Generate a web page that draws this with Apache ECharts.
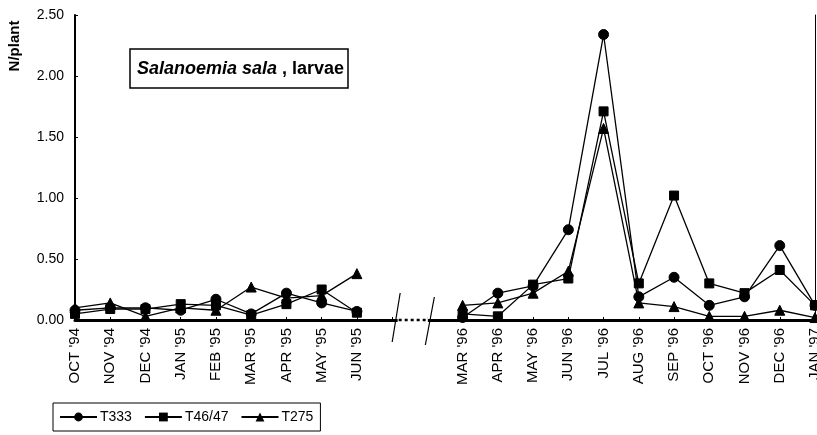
<!DOCTYPE html>
<html>
<head>
<meta charset="utf-8">
<script src="https://cdn.jsdelivr.net/npm/echarts@6/dist/echarts.min.js"></script>
<style>
html,body{margin:0;padding:0;background:#fff;}
#c{width:817px;height:435px;}
</style>
</head>
<body>
<div id="c"></div>
<script>
// ---- data ----
const categories = ["OCT '94","NOV '94","DEC '94","JAN '95","FEB '95","MAR '95","APR '95","MAY '95","JUN '95",
  "", "",
  "MAR '96","APR '96","MAY '96","JUN '96","JUL '96","AUG '96","SEP '96","OCT '96","NOV '96","DEC '96","JAN '97"];
const t333  = [0.08,0.10,0.10,0.08,0.17,0.05,0.22,0.14,0.07, null,null, 0.02,0.22,0.28,0.74,2.34,0.19,0.35,0.12,0.19,0.61,0.12];
const t4647 = [0.05,0.09,0.09,0.13,0.12,0.04,0.13,0.25,0.06, null,null, 0.05,0.03,0.29,0.34,1.71,0.30,1.02,0.30,0.22,0.41,0.12];
const t275  = [0.10,0.14,0.03,0.10,0.08,0.27,0.18,0.20,0.38, null,null, 0.12,0.14,0.22,0.40,1.57,0.14,0.11,0.03,0.03,0.08,0.02];
const seriesNames = ["T333","T46/47","T275"];
const yTicks = {min:0, max:2.5, interval:0.5};

const FONT = "'Liberation Sans', Arial, sans-serif";
const chart = echarts.init(document.getElementById('c'), null, {renderer:'canvas', width:817, height:435});

function mk(name, data, symbol, size){
  return {
    name, type:'line', data, symbol, symbolSize:size, connectNulls:false,
    lineStyle:{color:'#000', width:1.3},
    itemStyle:{color:'#000', borderColor:'#000'},
    emphasis:{disabled:true}, animation:false
  };
}

chart.setOption({
  animation:false,
  backgroundColor:'#fff',
  grid:{left:75, right:2, top:15, bottom:115, show:false, outerBoundsMode:'none', containLabel:false},
  legend:{
    left:53, top:403, orient:'horizontal',
    data:seriesNames,
    itemWidth:37, itemHeight:11, itemGap:12,
    padding:[7,7,7,6],
    borderColor:'#000', borderWidth:1,
    textStyle:{fontFamily:FONT, fontSize:14, color:'#000', padding:[0,0,0,-2]},
    selectedMode:false
  },
  xAxis:[{
    type:'category', data:categories, boundaryGap:false,
    axisLine:{show:true, lineStyle:{color:'#000', width:3}},
    axisTick:{show:true, inside:true, length:3, lineStyle:{color:'#000', width:1}},
    axisLabel:{rotate:90, interval:0, margin:8, fontFamily:FONT, fontSize:15, color:'#000'},
    splitLine:{show:false}
  },{
    type:'category', data:categories, boundaryGap:false, position:'top',
    axisLine:{show:true, lineStyle:{color:'#000', width:2}},
    axisTick:{show:false}, axisLabel:{show:false}, splitLine:{show:false}
  }],
  yAxis:[{
    type:'value', min:yTicks.min, max:yTicks.max, interval:yTicks.interval,
    axisLine:{show:true, lineStyle:{color:'#000', width:2}},
    axisTick:{show:true, inside:true, length:3, lineStyle:{color:'#000'}},
    axisLabel:{margin:11, fontFamily:FONT, fontSize:14, color:'#000', formatter:v=>v.toFixed(2)},
    splitLine:{show:false}
  },{
    type:'value', min:yTicks.min, max:yTicks.max, interval:yTicks.interval, position:'right',
    axisLine:{show:true, lineStyle:{color:'#000', width:1}},
    axisTick:{show:false}, axisLabel:{show:false}, splitLine:{show:false}
  }],
  series:[
    mk(seriesNames[0], t333, 'circle', 10),
    mk(seriesNames[1], t4647, 'rect', 9),
    mk(seriesNames[2], t275, 'triangle', 10)
  ]
});

// decorations: title box, y-axis name, axis break
const px = i => chart.convertToPixel({xAxisIndex:0}, i);
const y0 = chart.convertToPixel({yAxisIndex:0}, 0);
const p9 = px(9), p10 = px(10), d = p10 - p9;
const s1 = p9 + 0.1*d, s2 = p10 + 0.07*d;

chart.setOption({
  graphic:[
    {type:'rect', shape:{x:130, y:49, width:218, height:39}, style:{fill:'#fff', stroke:'#000', lineWidth:1.5}, z:10},
    {type:'text', x:137, y:69, z:11, style:{
      text:'{a|Salanoemia sala}{b| , larvae}', verticalAlign:'middle', align:'left',
      rich:{
        a:{fontFamily:FONT, fontSize:18, fontWeight:'bold', fontStyle:'italic', fill:'#000'},
        b:{fontFamily:FONT, fontSize:18, fontWeight:'bold', fill:'#000'}
      }}},
    {type:'text', x:15, y:46, rotation:Math.PI/2, z:11, style:{
      text:'N/plant', fontFamily:FONT, fontSize:15, fontWeight:'bold', fill:'#000', align:'center', verticalAlign:'middle'}},
    {type:'rect', shape:{x:s1+2, y:y0-3, width:(s2-2)-(s1+2), height:6}, style:{fill:'#fff'}, z:20},
    {type:'line', shape:{x1:s1+3, y1:y0, x2:s2-2, y2:y0}, style:{stroke:'#000', lineWidth:2.5, lineDash:[3,3]}, z:21},
    {type:'line', shape:{x1:s1+4.5, y1:y0-27, x2:s1-3.5, y2:y0+22}, style:{stroke:'#000', lineWidth:1.2}, z:21},
    {type:'line', shape:{x1:s2+4.5, y1:y0-23, x2:s2-4.5, y2:y0+25}, style:{stroke:'#000', lineWidth:1.2}, z:21}
  ]
});
</script>
</body>
</html>
